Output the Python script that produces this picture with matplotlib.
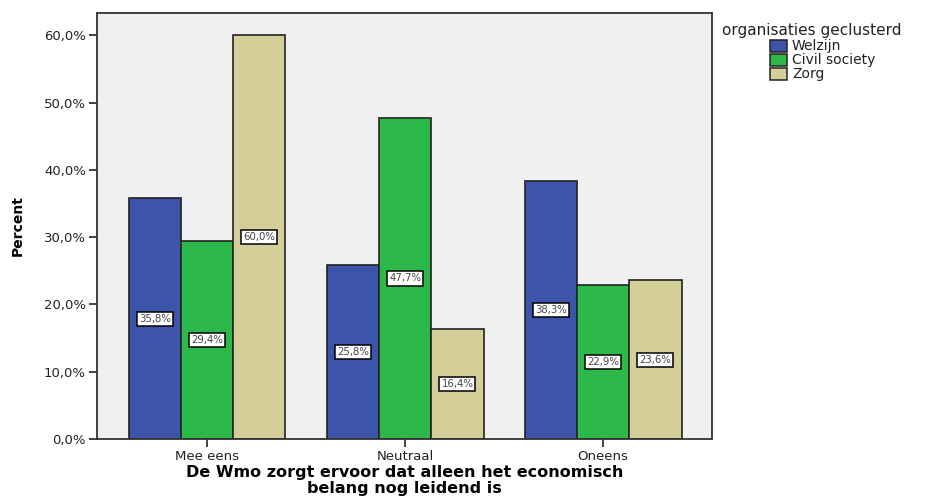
import numpy as np
import matplotlib
matplotlib.use("Agg")
import matplotlib.pyplot as plt
from matplotlib.patches import Rectangle
from matplotlib.ticker import FuncFormatter

categories = ["Mee eens", "Neutraal", "Oneens"]
groups = ["Welzijn", "Civil society", "Zorg"]
welzijn = [35.8, 25.8, 38.3]
civil_society = [29.4, 47.7, 22.9]
zorg = [60.0, 16.4, 23.6]
series = [welzijn, civil_society, zorg]
colors = ["#3c55a8", "#2db84a", "#d4cf98"]

plt.rcParams["font.family"] = ["DejaVu Sans"]

W, H = 931, 497
fig = plt.figure(figsize=(W / 100, H / 100), dpi=100)
ax = fig.add_axes([97 / W, 1 - 439 / H, 615 / W, 426 / H])
ax.set_facecolor("#f0f0f0")

x = np.arange(len(categories))
width = 0.264
for i, (vals, col) in enumerate(zip(series, colors)):
    pos = x + (i - 1) * width
    ax.bar(pos, vals, width=width, color=col, edgecolor="#222222", linewidth=1.2)
    for px, v in zip(pos, vals):
        ax.text(px, v / 2, f"{v:.1f}%".replace(".", ","), ha="center", va="center",
                fontsize=7.3, color="#444444",
                bbox=dict(boxstyle="square,pad=0.2", fc="white", ec="black", lw=1.1))

ax.set_xlim(-0.556, 2.55)
ax.set_ylim(0, 63.3)
ax.set_yticks([0, 10, 20, 30, 40, 50, 60])
ax.yaxis.set_major_formatter(FuncFormatter(lambda v, p: f"{v:.1f}%".replace(".", ",")))
ax.set_xticks(x)
ax.set_xticklabels(categories)
ax.tick_params(axis="both", labelsize=9.5, length=6, width=1.3, color="#333333",
               labelcolor="#222222", pad=2)

for s in ax.spines.values():
    s.set_linewidth(1.3)
    s.set_color("#333333")

ax.set_ylabel("Percent", fontsize=10, fontweight="bold")
ax.yaxis.set_label_coords(-(97 - 25) / 615, 0.5)

# as-kop onder de grafiek, twee regels gecentreerd
fig.text(404.5 / W, 1 - 472 / H, "De Wmo zorgt ervoor dat alleen het economisch",
         ha="center", va="center", fontsize=11.5, fontweight="bold")
fig.text(404.5 / W, 1 - 489 / H, "belang nog leidend is",
         ha="center", va="center", fontsize=11.5, fontweight="bold")

# legenda
fig.text(722 / W, 1 - 30 / H, "organisaties geclusterd", ha="left", va="center",
         fontsize=11, color="#222222")
for k, (g, c) in enumerate(zip(groups, colors)):
    yc = 46 + 14 * k
    fig.patches.append(Rectangle((770 / W, 1 - (yc + 6) / H), 17 / W, 12 / H,
                                 transform=fig.transFigure, facecolor=c,
                                 edgecolor="#222222", linewidth=1.1))
    fig.text(792 / W, 1 - yc / H, g, ha="left", va="center", fontsize=10,
             color="#222222")

fig.savefig("out.png", dpi=100, facecolor="white")
